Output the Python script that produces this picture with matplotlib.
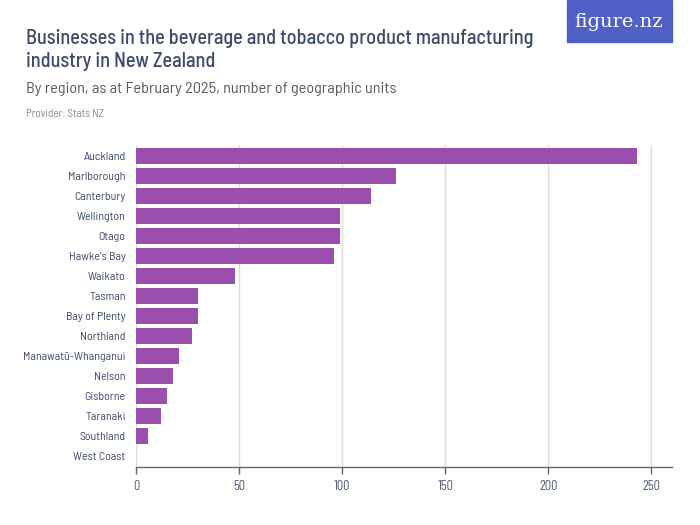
import matplotlib
matplotlib.use("Agg")
import matplotlib.pyplot as plt
from matplotlib.patches import Rectangle
import logging
logging.getLogger("matplotlib.font_manager").setLevel(logging.ERROR)

regions = ["Auckland", "Marlborough", "Canterbury", "Wellington", "Otago",
           "Hawke's Bay", "Waikato", "Tasman", "Bay of Plenty", "Northland",
           "Manawatū-Whanganui", "Nelson", "Gisborne", "Taranaki",
           "Southland", "West Coast"]
values = [243, 126, 114, 99, 99, 96, 48, 30, 30, 27, 21, 18, 15, 12, 6, 0]
xticks = [0, 50, 100, 150, 200, 250]

fam = ["Barlow Semi Condensed", "Roboto", "DejaVu Sans"]

fig = plt.figure(figsize=(7, 5.25), dpi=100)
ax = fig.add_axes([136/700, 1-467/525, (672-136)/700, (467-145)/525])

ypos = list(range(len(regions)))
ax.barh(ypos, values, height=0.8, color="#994fab", zorder=3)
ax.set_ylim(len(regions) - 0.45, -0.55)
ax.set_xlim(0, 260)
ax.set_xticks(xticks)
ax.set_xticklabels([str(t) for t in xticks], family=fam, fontsize=9, color="#4a5570")
ax.set_yticks(ypos)
ax.set_yticklabels(regions, family=fam, fontsize=8.6, color="#3d4a6b")
ax.tick_params(axis="y", length=0, pad=7.5)
ax.tick_params(axis="x", length=5, color="#666666", width=1, pad=4)
for s in ["top", "right", "left"]:
    ax.spines[s].set_visible(False)
ax.spines["bottom"].set_color("#666666")
ax.spines["bottom"].set_linewidth(1)
ax.grid(axis="x", color="#dddddd", linewidth=1, zorder=0)
ax.set_axisbelow(True)

fig.text(26/700, 1-44/525, "Businesses in the beverage and tobacco product manufacturing",
         family=fam, fontsize=14.6, color="#3d4a6b", fontweight=500, va="baseline")
fig.text(26/700, 1-67/525, "industry in New Zealand",
         family=fam, fontsize=14.6, color="#3d4a6b", fontweight=500, va="baseline")
fig.text(26/700, 1-93/525, "By region, as at February 2025, number of geographic units",
         family=fam, fontsize=11.7, color="#5a5a5a", va="baseline")
fig.text(26/700, 1-117/525, "Provider: Stats NZ", family=fam, fontsize=8,
         color="#8a8a8a", va="baseline")

fig.patches.append(Rectangle((567/700, 1-42/525), (672-567)/700, 42/525,
                             transform=fig.transFigure, color="#5060c6", zorder=0))
fig.text(619/700, 1-22/525, "figure.nz", family=["DejaVu Serif"], fontsize=14,
         color="white", ha="center", va="center")

fig.savefig("out.png", dpi=100)
